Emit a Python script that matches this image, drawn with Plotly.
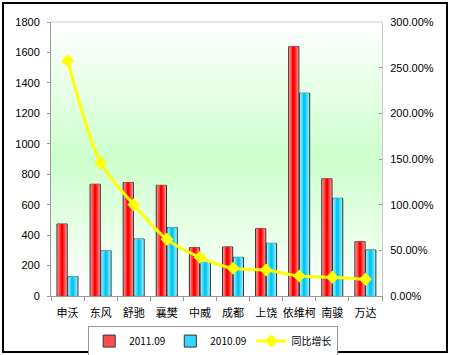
import plotly.graph_objects as go
import base64

categories = ["申沃", "东风", "舒驰", "襄樊", "中威", "成都", "上饶", "依维柯", "南骏", "万达"]
sales_2011 = [473, 734, 745, 727, 318, 322, 442, 1638, 770, 357]
sales_2010 = [127, 296, 374, 449, 221, 254, 346, 1332, 642, 302]
growth = [2.576, 1.46, 1.00, 0.62, 0.424, 0.303, 0.285, 0.219, 0.205, 0.183]

left_ticks = [0, 200, 400, 600, 800, 1000, 1200, 1400, 1600, 1800]
right_ticks = [0, 0.5, 1.0, 1.5, 2.0, 2.5, 3.0]
right_labels = ["0.00%", "50.00%", "100.00%", "150.00%", "200.00%", "250.00%", "300.00%"]

def lerp(c1, c2, t):
    return "rgb(%d,%d,%d)" % tuple(round(a + (b - a) * t) for a, b in zip(c1, c2))

fig = go.Figure()

N = 6
bar_w = 0.31
series = [
    ("2011.09", sales_2011, -0.32 + bar_w / 2, (255, 150, 150), (255, 0, 0), "#ff4d4d"),
    ("2010.09", sales_2010, 0.005 + bar_w / 2, (160, 238, 255), (0, 200, 245), "#33d6ff"),
]
for name, vals, center, edge, mid, legc in series:
    for i in range(N):
        w = bar_w * (1 - i / N)
        t = i / (N - 1)
        fig.add_trace(go.Bar(
            x=categories, y=vals, name=name,
            width=w, offset=center - w / 2,
            marker=dict(color=lerp(edge, mid, t),
                        line=dict(color="#333333" if i == 0 else "rgba(0,0,0,0)", width=1 if i == 0 else 0)),
            showlegend=False, hoverinfo="skip" if i else None,
        ))
    fig.add_trace(go.Bar(x=[None], y=[None], name=name,
                         marker=dict(color=legc, line=dict(color="#333333", width=1)),
                         showlegend=True))

fig.add_trace(go.Scatter(
    x=categories, y=growth, name="同比增长", yaxis="y2",
    mode="lines+markers", line=dict(color="#ffff00", width=3, shape="spline", smoothing=0.8),
    marker=dict(symbol="diamond", size=10, color="#ffff00"),
))

svg = ('<svg xmlns="http://www.w3.org/2000/svg" width="100" height="100" preserveAspectRatio="none">'
       '<defs><linearGradient id="g" x1="0" y1="0" x2="0" y2="1">'
       '<stop offset="0" stop-color="#ffffff"/><stop offset="0.5" stop-color="#ccffcc"/>'
       '<stop offset="1" stop-color="#ffffff"/></linearGradient></defs>'
       '<rect width="100" height="100" fill="url(#g)"/></svg>')
src = "data:image/svg+xml;base64," + base64.b64encode(svg.encode()).decode()

pl, pr, pt, pb = 51, 68, 22, 59
W, H = 450, 355
pw, ph = W - pl - pr, H - pt - pb

fig.update_layout(
    width=W, height=H,
    margin=dict(l=pl, r=pr, t=pt, b=pb, autoexpand=False),
    paper_bgcolor="white", plot_bgcolor="rgba(0,0,0,0)",
    barmode="overlay",
    font=dict(family="Liberation Sans, Arial, sans-serif", size=11, color="black"),
    images=[dict(source=src, xref="paper", yref="paper", x=0, y=1, sizex=1, sizey=1,
                 sizing="stretch", layer="below")],
    xaxis=dict(type="category", showline=True, linecolor="#999999", ticks="outside",
               tickson="boundaries", ticklen=4, tickcolor="#999999", showgrid=False,
               tickangle=0, automargin=False, ticklabelstandoff=7,
               tickfont=dict(family="Noto Sans CJK SC", size=11), range=[-0.5, 9.5]),
    yaxis=dict(range=[0, 1800], tickvals=left_ticks, showline=True, linecolor="#999999",
               ticks="outside", ticklen=3, tickcolor="#999999", showgrid=False, zeroline=False,
               automargin=False, ticklabelstandoff=5),
    yaxis2=dict(range=[0, 3], overlaying="y", side="right", tickvals=right_ticks,
                ticktext=right_labels, showline=True, linecolor="#cccccc", ticks="inside",
                ticklen=3, tickcolor="#999999", showgrid=False, zeroline=False, automargin=False,
                ticklabelstandoff=5),
    legend=dict(orientation="h", x=0.49, xanchor="center", y=-0.108, yanchor="top",
                bordercolor="#999999", borderwidth=1, font=dict(family="Noto Sans CJK SC", size=10),
                itemwidth=30, tracegroupgap=0),
    shapes=[
        dict(type="line", xref="paper", yref="paper", x0=0, x1=1, y0=1, y1=1,
             line=dict(color="#cccccc", width=1)),
        dict(type="rect", xref="paper", yref="paper",
             x0=(3 - pl) / pw, x1=(447 - pl) / pw, y0=(H - pb - 352) / ph, y1=(H - pb - 3) / ph,
             line=dict(color="black", width=2), fillcolor="rgba(0,0,0,0)", layer="above"),
    ],
)

fig.write_html("out.html", config={"displayModeBar": False},
               post_script="document.body.style.margin='0';document.body.style.overflow='hidden';")
